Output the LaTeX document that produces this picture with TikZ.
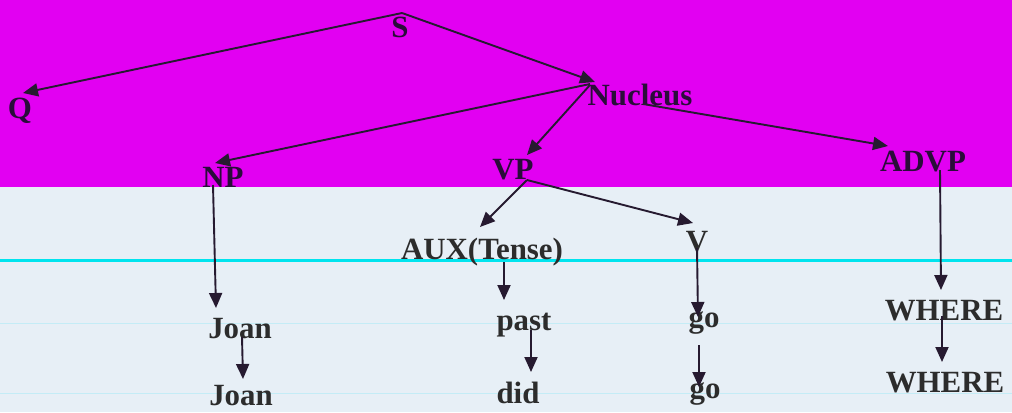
\documentclass[tikz,border=0pt]{standalone}
\usepackage{fontspec}
\setmainfont{Liberation Serif}
\usetikzlibrary{arrows.meta}
\definecolor{magbg}{RGB}{226,0,242}
\definecolor{lightbg}{RGB}{231,239,246}
\definecolor{cyanline}{RGB}{0,228,238}
\definecolor{faintline}{RGB}{196,236,246}
\definecolor{inkmag}{RGB}{42,12,58}
\definecolor{inklight}{RGB}{44,44,44}
\definecolor{arrowink}{RGB}{38,26,48}
\tikzset{
  lbl/.style={inner sep=0pt, anchor=base, font=\fontsize{31}{31}\selectfont\bfseries},
  onmag/.style={lbl, text=inkmag},
  onlight/.style={lbl, text=inklight},
  arr/.style={draw=arrowink, line width=1.9bp, -{Triangle[length=15bp,width=13bp]}}
}
\begin{document}
\begin{tikzpicture}[x=1bp,y=-1bp]
\useasboundingbox (0,0) rectangle (1012,412);
% backgrounds
\fill[lightbg] (0,187) rectangle (1012,412);
\fill[magbg] (0,0) rectangle (1012,187);
\draw[faintline, line width=1bp] (0,323.5) -- (1012,323.5);
\draw[faintline, line width=1bp] (0,393) -- (1012,393);
\draw[cyanline, line width=2.6bp] (0,260.5) -- (1012,260.5);
% nodes
\node[onmag] (S) at (400,37) {S};
\node[onmag] (Q) at (20,118) {Q};
\node[onmag] (Nuc) at (640,105) {Nucleus};
\node[onmag] (NP) at (223,187) {NP};
\node[onmag] (VP) at (513,179) {VP};
\node[onmag] (ADVP) at (923,171) {ADVP};
\node[onlight] (AUX) at (482,259) {AUX(Tense)};
\node[onlight] (V) at (697,251) {V};
\node[onlight] (Joan) at (240,338) {Joan};
\node[onlight] (Joan2) at (241,405) {Joan};
\node[onlight] (past) at (524,330) {past};
\node[onlight] (did) at (518,403) {did};
\node[onlight] (go) at (704,327) {go};
\node[onlight] (go2) at (705,398) {go};
\node[onlight] (WH) at (944,320) {WHERE};
\node[onlight] (WH2) at (945,392) {WHERE};
% connectors
\draw[arr] ([shift={(2bp,24bp)}]S.base) -- ([shift={(3bp,25bp)}]Q.base);
\draw[arr] ([shift={(2bp,24bp)}]S.base) -- ([shift={(-45bp,23bp)}]Nuc.base);
\draw[arr] ([shift={(-50bp,21bp)}]Nuc.base) -- ([shift={(-8bp,24bp)}]NP.base);
\draw[arr] ([shift={(-50bp,20bp)}]Nuc.base) -- ([shift={(14bp,24bp)}]VP.base);
\draw[arr] ([shift={(3bp,1bp)}]Nuc.base) -- ([shift={(-35bp,25bp)}]ADVP.base);
\draw[arr] ([shift={(14bp,-1bp)}]VP.base) -- ([shift={(-2bp,32bp)}]AUX.base);
\draw[arr] ([shift={(14bp,-1bp)}]VP.base) -- ([shift={(-4bp,28bp)}]V.base);
\draw[arr] ([shift={(-10bp,2bp)}]NP.base) -- ([shift={(-24bp,30bp)}]Joan.base);
\draw[arr] ([shift={(2bp,1bp)}]Joan.base) -- ([shift={(2bp,26bp)}]Joan2.base);
\draw[arr] ([shift={(22bp,-3bp)}]AUX.base) -- ([shift={(-20bp,30bp)}]past.base);
\draw[arr] ([shift={(7bp,0bp)}]past.base) -- ([shift={(13bp,31bp)}]did.base);
\draw[arr] ([shift={(0bp,3bp)}]V.base) -- ([shift={(-6bp,10bp)}]go.base);
\draw[arr] ([shift={(-5bp,-18bp)}]go.base) -- ([shift={(-6bp,11bp)}]go2.base);
\draw[arr] ([shift={(17bp,1bp)}]ADVP.base) -- ([shift={(-3bp,30bp)}]WH.base);
\draw[arr] ([shift={(-2bp,4bp)}]WH.base) -- ([shift={(-3bp,30bp)}]WH2.base);
\end{tikzpicture}
\end{document}
